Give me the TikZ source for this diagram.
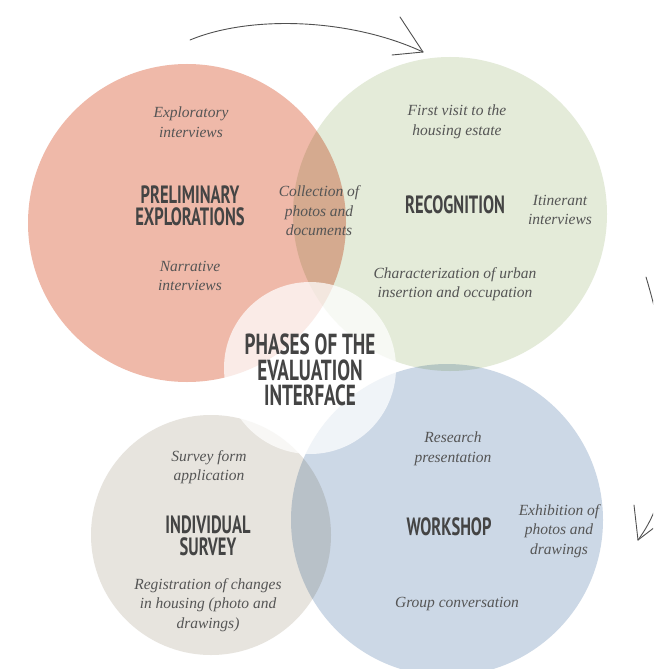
\documentclass[tikz,border=0pt]{standalone}
\usepackage{fontspec}
\newfontfamily\headfont{PT Sans}[FakeStretch=0.66]
\newfontfamily\notefont{Liberation Serif}
\definecolor{prelimc}{HTML}{EFB9A9}
\definecolor{recogc}{HTML}{E4EBD9}
\definecolor{surveyc}{HTML}{E7E4DE}
\definecolor{workc}{HTML}{CCD8E6}
\definecolor{notec}{HTML}{555555}
\definecolor{headc}{HTML}{444444}
\definecolor{arrowc}{HTML}{505050}
\tikzset{
	phase/.style={circle, inner sep=0pt, minimum size=#1},
	note/.style={align=center, text=notec, font=\notefont\fontsize{15.5}{19.5}\selectfont\itshape},
	title/.style={align=center, text=headc, font=\headfont\bfseries\fontsize{25}{22}\selectfont},
	sketch/.style={draw=arrowc, line width=.9pt, line cap=round},
}
\begin{document}
\begin{tikzpicture}[x=1pt, y=-1pt]
		\clip (0,0) rectangle (653,669);
		\fill[white] (0,0) rectangle (653,669);
		
		% the four phases
		\begin{scope}[blend mode=multiply]
		\node[phase=318pt, fill=prelimc] (prelim) at (187,223) {};
		\node[phase=314pt, fill=recogc] (recog) at (450,214) {};
		\node[phase=240pt, fill=surveyc] (survey) at (211,535) {};
		\node[phase=312pt, fill=workc] (work) at (447,520) {};
		\end{scope}
		\node[phase=172pt, fill=white, fill opacity=.72] (centre) at (310,368) {};
		
		\node[title, font=\headfont\bfseries\fontsize{29}{25.5}\selectfont] (centretitle) at (310,370) {PHASES OF THE\\EVALUATION\\INTERFACE};
		
		\node[title] (prelimtitle) at (190,206) {PRELIMINARY\\EXPLORATIONS};
		\node[note] (explo) at (191,122) {Exploratory\\interviews};
		\node[note] (narr) at (190,276) {Narrative\\interviews};
		\node[note] (collect) at (319,211) {Collection of\\photos and\\documents};
		
		\node[title] (recogtitle) at (455,205) {RECOGNITION};
		\node[note] (visit) at (457,122) {First visit to the\\housing estate};
		\node[note] (itin) at (560,210) {Itinerant\\interviews};
		\node[note] (charac) at (455,284) {Characterization of urban\\insertion and occupation};
		
		\node[title] (surveytitle) at (208,536) {INDIVIDUAL\\SURVEY};
		\node[note] (form) at (209,467) {Survey form\\application};
		\node[note] (regist) at (208,605) {Registration of changes\\in housing (photo and\\drawings)};
		
		\node[title] (worktitle) at (449,527) {WORKSHOP};
		\node[note] (present) at (453,449) {Research\\presentation};
		\node[note] (exhib) at (559,531) {Exhibition of\\photos and\\drawings};
		\node[note] (conv) at (457,604) {Group conversation};
		
		% hand drawn arrows
		\coordinate (topstart) at (190,40);
		\coordinate (toptip) at (423,52);
		\draw[sketch] (topstart) .. controls (250,15) and (350,18) .. (toptip);
		\draw[sketch] (toptip) -- ++(-23,-35);
		\draw[sketch] (toptip) -- ++(-31,3);
		
		\coordinate (sidestart) at (646,277);
		\coordinate (sidetip) at (638,540);
		\draw[sketch] (sidestart) .. controls (668,350) and (690,470) .. (sidetip);
		\draw[sketch] (sidetip) -- ++(-4,-35);
		\draw[sketch] (sidetip) -- ++(17,-13);
\end{tikzpicture}
\end{document}
